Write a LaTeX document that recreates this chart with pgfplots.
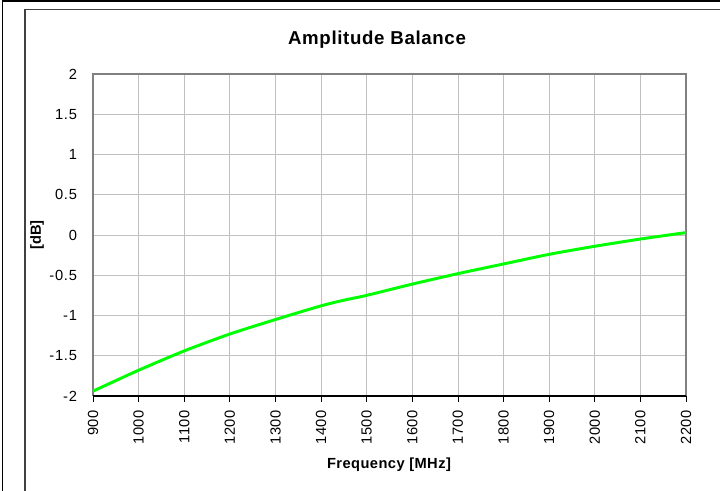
\documentclass[border=0pt]{standalone}
\usepackage{fontspec}
\setmainfont{Liberation Sans}
\usepackage{pgfplots}
\pgfplotsset{compat=1.18}
\definecolor{gridc}{HTML}{C0C0C0}
\definecolor{framec}{HTML}{808080}
\definecolor{outerc}{HTML}{404040}
\definecolor{lineg}{HTML}{00FF00}
\begin{document}
\begin{tikzpicture}
\path[use as bounding box] (0,0) rectangle (540pt,368.25pt);
\fill[white] (0,0) rectangle (540pt,368.25pt);
\draw[black, line width=1.2pt] (1.9pt,-1pt) -- (1.9pt,367.6pt) -- (541pt,367.6pt);
\draw[outerc, line width=1.1pt] (18.75pt,-1pt) -- (18.75pt,361.1pt) -- (541pt,361.1pt);
\begin{axis}[
  at={(69.75pt,71.25pt)}, anchor=south west,
  scale only axis, width=444.75pt, height=241.5pt,
  xmin=900, xmax=2200, ymin=-2, ymax=2,
  xtick={900,1000,...,2200}, ytick={-2,-1.5,...,2},
  xtick pos=bottom, ytick pos=left,
  grid=major, major grid style={gridc, line width=0.6pt},
  axis line style={draw=none},
  tick align=outside, major tick length=4.5pt,
  xtick style={black, line width=0.6pt}, ytick style={draw=none},
  /pgf/number format/assume math mode=true,
  /pgf/number format/.cd, use period, 1000 sep={}, /pgfplots/.cd,
  ticklabel style={font=\fontsize{11}{13}\selectfont\addfontfeature{LetterSpace=5}},
  xticklabel style={rotate=90, anchor=east, xshift=-2.5pt},
  yticklabel style={xshift=-4pt},
  clip=false,
]
\draw[framec, line width=0.8pt] (rel axis cs:0,0) -- (rel axis cs:0,1) -- (rel axis cs:1,1) -- (rel axis cs:1,0);
\draw[black, line width=0.8pt] (rel axis cs:0,0) -- (rel axis cs:1,0);
\addplot[lineg, line width=2.2pt, smooth, tension=0.4] coordinates {
(900,-1.94) (1000,-1.68) (1100,-1.44) (1200,-1.23) (1300,-1.05) (1400,-0.88)
(1450,-0.81) (1500,-0.75) (1600,-0.61) (1700,-0.48) (1800,-0.36) (1900,-0.24)
(2000,-0.14) (2100,-0.05) (2200,0.03)
};
\end{axis}
\node[font=\fontsize{14}{16}\selectfont\bfseries\addfontfeature{LetterSpace=3.5}] at (282.75pt,338.25pt) {Amplitude Balance};
\node[font=\fontsize{11}{13}\selectfont\bfseries\addfontfeature{LetterSpace=3}] at (291.75pt,19.5pt) {Frequency [MHz]};
\node[rotate=90, font=\fontsize{11}{13}\selectfont\bfseries] at (27.75pt,192pt) {[dB]};
\end{tikzpicture}
\end{document}
